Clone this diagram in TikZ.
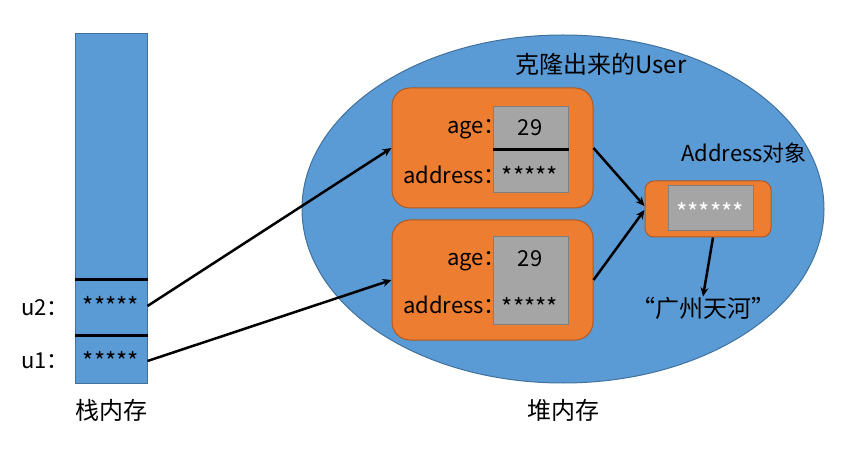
\documentclass[tikz,border=0pt]{standalone}
\usepackage{fontspec}
\setmainfont{Noto Sans CJK SC}
\usetikzlibrary{positioning,arrows.meta,shapes.geometric}

\definecolor{bluefill}{HTML}{5B9BD5}
\definecolor{blueline}{HTML}{41719C}
\definecolor{orangefill}{HTML}{ED7D31}
\definecolor{orangeline}{HTML}{AE5A21}
\definecolor{grayfill}{HTML}{A5A5A5}
\definecolor{grayline}{HTML}{7F7F7F}

\begin{document}
\begin{tikzpicture}[x=1pt,y=-1pt,
  every node/.style={inner sep=0pt,font=\fontsize{22}{26}\selectfont},
  big/.style={font=\fontsize{24}{28}\selectfont},
  stars/.style={font=\fontsize{24}{28}\selectfont},
  mem/.style={draw=blueline,fill=bluefill,line width=1pt},
  obj/.style={draw=orangeline,fill=orangefill,line width=1pt,rounded corners=18pt},
  field/.style={draw=grayline,fill=grayfill,line width=1pt},
  sep/.style={line width=3pt},
  ref/.style={line width=2.5pt,-{Stealth[length=9pt,width=8pt]}}]
\useasboundingbox (0,0) rectangle (868,457);

% stack memory
\node[mem,minimum width=72pt,minimum height=349pt] (stack) at (111,208.5) {};
\draw[sep] (stack.west |- 0,280) -- (stack.east |- 0,280);
\draw[sep] (stack.west |- 0,335) -- (stack.east |- 0,335);
\node[stars] (u2ref) at (111,306) {*****};
\node[stars] (u1ref) at (111,361) {*****};
\node[anchor=east] (u2) at (69,308) {u2：};
\node[anchor=east] (u1) at (69,361) {u1：};
\node[big] (stacklbl) at (111,410) {栈内存};

% heap memory
\node[mem,ellipse,minimum width=522pt,minimum height=348pt] (heap) at (563,209) {};
\node[big] (heaplbl) at (563,410) {堆内存};
\node[big] (clonelbl) at (601,64) {克隆出来的User};

% cloned user objects
\node[obj,minimum width=201pt,minimum height=120pt] (clone) at (492.5,148) {};
\node[field,minimum width=75pt,minimum height=86pt] (cloneval) at (530.5,150) {};
\draw[sep] (cloneval.west) -- (cloneval.east);
\node (age) at (530,128) {29};
\node[stars] (addrref) at (530,176) {*****};
\node[anchor=east] (agelbl) at (506,129) {age：};
\node[anchor=east] (addrlbl) at (506,175) {address：};

\node[obj,minimum width=201pt,minimum height=120pt] (cloneb) at (492.5,280) {};
\node[field,minimum width=75pt,minimum height=87pt] (clonebval) at (530.5,280.5) {};
\node (ageb) at (530,259) {29};
\node[stars] (addrrefb) at (530,307) {*****};
\node[anchor=east] (ageblbl) at (506,261) {age：};
\node[anchor=east] (addrblbl) at (506,305) {address：};

% address object
\node[obj,rounded corners=9pt,minimum width=126pt,minimum height=56pt] (addr) at (708,209) {};
\node[field,minimum width=85pt,minimum height=45pt] (addrval) at (710.5,208.5) {};
\node[stars,text=white] (addrstars) at (710,212) {******};
\node (addrlbl) at (744,153) {Address对象};
\node[big] (place) at (703,308) {“广州天河”};

% references
\draw[ref] (stack.east |- u2ref) -- (clone.west);
\draw[ref] (stack.east |- u1ref) -- (cloneb.west);
\draw[ref] (clone.east) -- ([yshift=3pt]addr.west);
\draw[ref] (cloneb.east) -- ([yshift=-1pt]addr.west);
\draw[ref] ([xshift=5pt]addr.south) -- (place.north);
\end{tikzpicture}
\end{document}
